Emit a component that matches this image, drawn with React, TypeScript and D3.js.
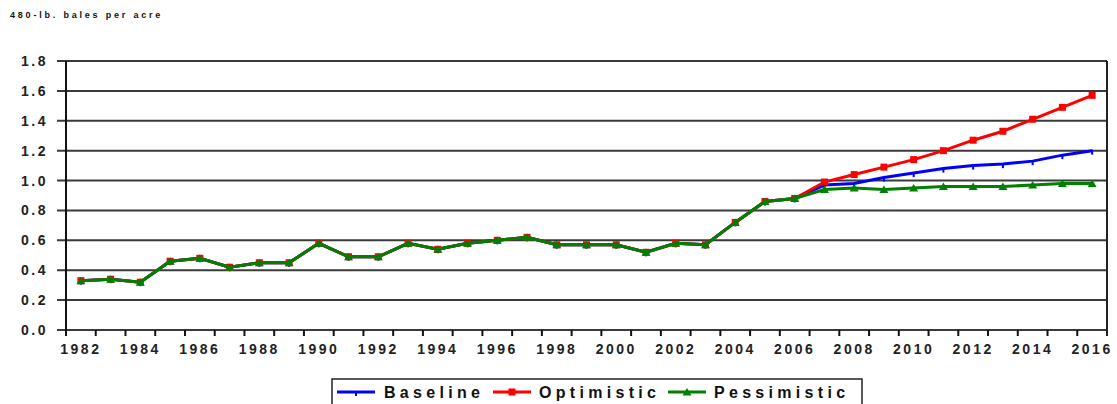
import * as d3 from "d3";

const years = [
  1982, 1983, 1984, 1985, 1986, 1987, 1988, 1989, 1990, 1991, 1992, 1993,
  1994, 1995, 1996, 1997, 1998, 1999, 2000, 2001, 2002, 2003, 2004, 2005,
  2006, 2007, 2008, 2009, 2010, 2011, 2012, 2013, 2014, 2015, 2016,
];

// shared history 1982-2006
const history = [
  0.33, 0.34, 0.32, 0.46, 0.48, 0.42, 0.45, 0.45, 0.58, 0.49, 0.49, 0.58,
  0.54, 0.58, 0.6, 0.62, 0.57, 0.57, 0.57, 0.52, 0.58, 0.57, 0.72, 0.86, 0.88,
];

// projections 2007-2016
const baseline = [0.97, 0.98, 1.02, 1.05, 1.08, 1.1, 1.11, 1.13, 1.17, 1.2];
const optimistic = [0.99, 1.04, 1.09, 1.14, 1.2, 1.27, 1.33, 1.41, 1.49, 1.57];
const pessimistic = [0.94, 0.95, 0.94, 0.95, 0.96, 0.96, 0.96, 0.97, 0.98, 0.98];

const yTicks = [0, 0.2, 0.4, 0.6, 0.8, 1.0, 1.2, 1.4, 1.6, 1.8];
const xLabels = [
  1982, 1984, 1986, 1988, 1990, 1992, 1994, 1996, 1998, 2000, 2002, 2004,
  2006, 2008, 2010, 2012, 2014, 2016,
];

const seriesList = [
  { name: "Baseline", values: [...history, ...baseline], color: "#0000ff", marker: "dash" },
  { name: "Optimistic", values: [...history, ...optimistic], color: "#ff0000", marker: "square" },
  { name: "Pessimistic", values: [...history, ...pessimistic], color: "#008000", marker: "triangle" },
];

const font = "'Liberation Sans', Arial, sans-serif";

function Marker({ type, x, y, color }: { type: string; x: number; y: number; color: string }) {
  if (type === "square") {
    return <rect x={x - 3.5} y={y - 3.5} width={7} height={7} fill={color} />;
  }
  if (type === "triangle") {
    return <path d={`M${x - 4.5},${y + 3.5}L${x},${y - 4}L${x + 4.5},${y + 3.5}Z`} fill={color} />;
  }
  return <rect x={x - 1} y={y - 1} width={2} height={5} fill={color} />;
}

export default function App() {
  const width = 1117;
  const height = 404;
  const left = 66;
  const right = 1107;
  const top = 61;
  const bottom = 330;

  const x = d3.scaleBand<number>().domain(years).range([left, right]).padding(0);
  const y = d3.scaleLinear().domain([0, 1.8]).range([bottom, top]);
  const cx = (yr: number) => (x(yr) ?? 0) + x.bandwidth() / 2;

  const line = d3
    .line<number>()
    .x((_, i) => cx(years[i]))
    .y((d) => y(d));

  const legendItems = [
    { name: "Baseline", color: "#0000ff", marker: "dash", x0: 337, tx: 384 },
    { name: "Optimistic", color: "#ff0000", marker: "square", x0: 493, tx: 539 },
    { name: "Pessimistic", color: "#008000", marker: "triangle", x0: 668, tx: 714 },
  ];

  return (
    <svg
      width={width}
      height={height}
      style={{ position: "absolute", left: 0, top: 0, background: "#fff" }}
      fontFamily={font}
    >
      <text x={10} y={18} fontSize={9} fontWeight="bold" letterSpacing={2.8} fill="#111">
        480-lb. bales per acre
      </text>

      {/* gridlines */}
      {yTicks.map((t) => (
        <g key={t}>
          <line x1={left - 9} x2={right} y1={y(t)} y2={y(t)} stroke="#3a3a3a" strokeWidth={2} />
          <text
            x={48}
            y={y(t) + 5}
            textAnchor="end"
            fontSize={14}
            fontWeight="bold"
            letterSpacing={2.5}
            fill="#222"
          >
            {t.toFixed(1)}
          </text>
        </g>
      ))}

      {/* axes */}
      <line x1={left} x2={left} y1={top} y2={bottom + 6} stroke="#111" strokeWidth={2} />
      <line x1={right} x2={right} y1={top} y2={bottom + 6} stroke="#222" strokeWidth={2} />
      {years.map((yr) => (
        <line
          key={yr}
          x1={x(yr)}
          x2={x(yr)}
          y1={bottom}
          y2={bottom + 6}
          stroke="#111"
          strokeWidth={2}
        />
      ))}
      {xLabels.map((yr) => (
        <text
          key={yr}
          x={cx(yr)}
          y={354}
          textAnchor="middle"
          fontSize={14}
          fontWeight="bold"
          letterSpacing={2.5}
          fill="#222"
        >
          {yr}
        </text>
      ))}

      {/* series */}
      {seriesList.map((s) => (
        <g key={s.name}>
          <path d={line(s.values) ?? ""} fill="none" stroke={s.color} strokeWidth={3} />
          {s.values.map((v, i) => (
            <Marker key={i} type={s.marker} x={cx(years[i])} y={y(v)} color={s.color} />
          ))}
        </g>
      ))}

      {/* legend */}
      <rect x={332} y={379} width={530} height={30} fill="#fff" stroke="#222" strokeWidth={1.5} />
      {legendItems.map((l) => (
        <g key={l.name}>
          <line x1={l.x0} x2={l.x0 + 38} y1={392} y2={392} stroke={l.color} strokeWidth={3} />
          <Marker type={l.marker} x={l.x0 + 19} y={392} color={l.color} />
          <text
            x={l.tx}
            y={398}
            fontSize={16}
            fontWeight="bold"
            letterSpacing={4.3}
            fill="#111"
          >
            {l.name}
          </text>
        </g>
      ))}
    </svg>
  );
}
